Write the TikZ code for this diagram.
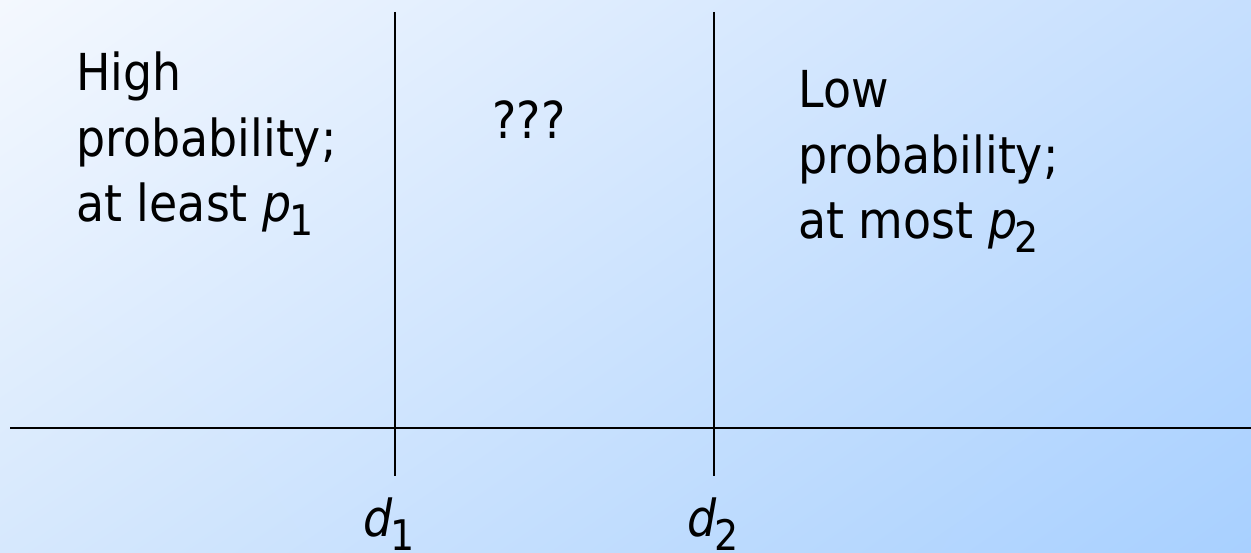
\documentclass[tikz,border=0pt]{standalone}
\usepackage{fontspec}
\usetikzlibrary{shadings}
\setmainfont[FakeStretch=0.9]{DejaVu Sans}
\newcommand\mysub[1]{\kern-0.05em\raisebox{-0.26em}{\fontsize{24}{24}\selectfont #1}}
\definecolor{bgTL}{RGB}{244,248,254}
\definecolor{bgTR}{RGB}{198,223,254}
\definecolor{bgBL}{RGB}{214,232,253}
\definecolor{bgBR}{RGB}{168,208,255}
\begin{document}
\begin{tikzpicture}[x=0.02cm,y=-0.02cm,
  txt/.style={inner sep=0pt, anchor=base west, align=left, font=\fontsize{29}{37.3}\selectfont},
  lbl/.style={inner sep=0pt, anchor=base, font=\fontsize{29}{37.3}\selectfont},
  axisline/.style={line width=0.8pt, draw=black}]
\begin{scope}[y=0.02cm]
  \shade[upper left=bgTL, upper right=bgTR, lower left=bgBL, lower right=bgBR] (0,-553) rectangle (1251,0);
\end{scope}
\useasboundingbox (0,0) rectangle (1251,553);
% axis and threshold lines
\coordinate (hl) at (10,428);
\coordinate (hr) at (1251,428);
\coordinate (v1t) at (395,12);
\coordinate (v1b) at (395,476);
\coordinate (v2t) at (714,12);
\coordinate (v2b) at (714,476);
\draw[axisline] (hl) -- (hr);
\draw[axisline] (v1t) -- (v1b);
\draw[axisline] (v2t) -- (v2b);
% texts (base anchor = baseline of the last line)
\node[txt] (high) at (76,222) {High\\probability;\\at least \textit{p}\mysub{1}};
\node[txt] (low) at (798,239) {Low\\probability;\\at most \textit{p}\mysub{2}};
\node[lbl] (q) at (529,139) {???};
\node[lbl] (d1) at (389,537) {\textit{d}\mysub{1}};
\node[lbl] (d2) at (713,537) {\textit{d}\mysub{2}};
\end{tikzpicture}
\end{document}
